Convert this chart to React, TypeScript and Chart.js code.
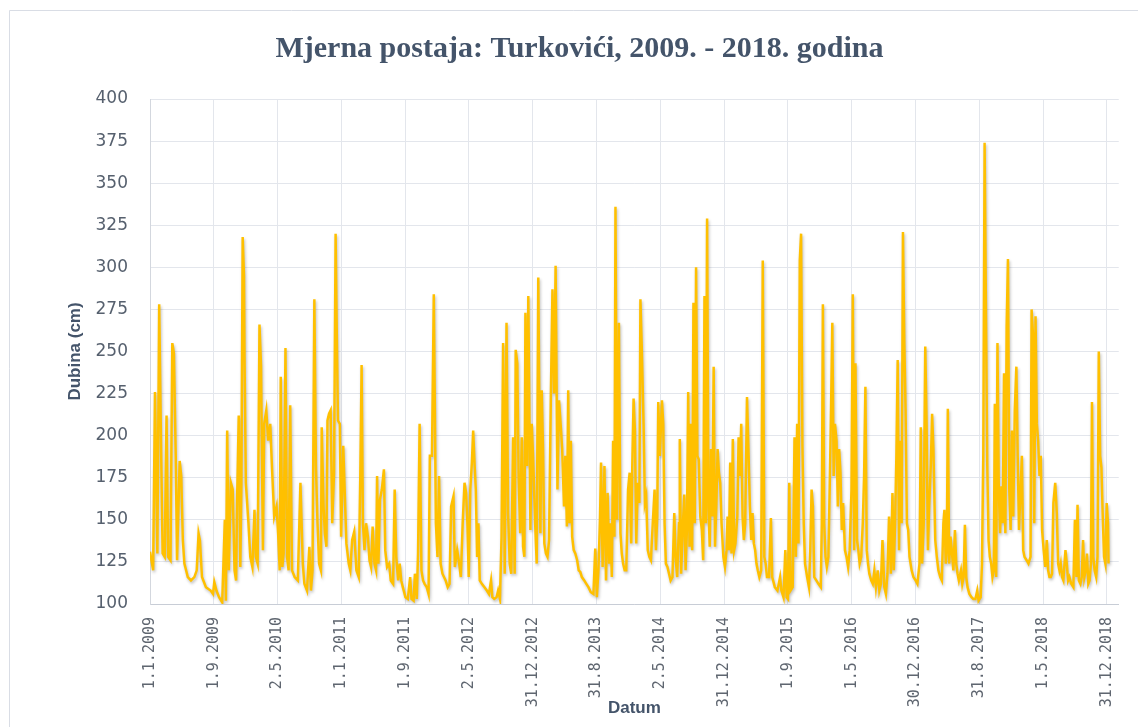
import React, { useEffect, useRef } from "react";
import { Chart, registerables } from "chart.js";

Chart.register(...registerables);

const chartTitle = "Mjerna postaja: Turkovići, 2009. - 2018. godina";
const yAxisTitle = "Dubina (cm)";
const xAxisTitle = "Datum";

const tickLabels = [
  "1.1.2009", "1.9.2009", "2.5.2010", "1.1.2011", "1.9.2011", "2.5.2012",
  "31.12.2012", "31.8.2013", "2.5.2014", "31.12.2014", "1.9.2015", "1.5.2016",
  "30.12.2016", "31.8.2017", "1.5.2018", "31.12.2018",
];
const tickStepDays = 243;
const lastCategory = 3690;

// [day index since 1.1.2009, depth in cm]
const obs2009: [number, number][] = [
  [0, 131], [12, 120], [19, 226], [28, 130], [35, 278], [41, 207], [48, 130], [56, 128], [63, 212], [69, 128],
  [78, 126], [85, 255], [91, 249], [98, 188], [103, 126], [113, 185], [119, 176], [125, 138], [131, 124], [144, 116],
  [156, 114], [169, 116], [178, 120], [185, 142], [190, 138], [198, 116], [213, 110], [231, 108], [240, 106], [245, 113],
  [253, 108], [263, 104], [275, 101], [285, 150], [289, 102], [294, 203], [300, 120], [308, 172], [315, 168], [322, 120],
  [328, 114], [332, 164], [338, 212], [344, 122], [348, 170], [353, 318], [358, 295], [360, 247], [365, 172], [375, 148],
  [382, 128], [390, 122], [398, 156], [403, 128], [410, 124], [417, 266], [423, 241], [430, 132], [435, 207], [443, 215],
  [450, 197], [458, 207], [465, 180], [473, 152], [482, 158], [488, 142], [494, 120], [498, 235], [504, 122], [509, 130],
  [516, 252], [522, 128], [528, 120], [534, 218], [541, 120], [551, 116], [563, 114], [573, 172],
];
const obs2010: [number, number][] = [
  [582, 124], [588, 112], [598, 108], [607, 134], [613, 108], [619, 120], [626, 281], [632, 182], [638, 148], [644, 124],
  [651, 120], [654, 205], [661, 158], [666, 142], [672, 134], [676, 209], [682, 213], [688, 215], [694, 148], [701, 178],
  [707, 320], [711, 266], [716, 209], [723, 207], [728, 140], [736, 194], [741, 170], [748, 136], [757, 124], [763, 120],
  [770, 138], [778, 143], [786, 120], [795, 116], [801, 176], [806, 242], [811, 148], [817, 132], [823, 148], [830, 140],
  [836, 126], [842, 122], [848, 146], [855, 124], [861, 120], [865, 176], [870, 124], [876, 162], [883, 168], [891, 180],
  [896, 132], [903, 122], [911, 124], [917, 114], [926, 112], [932, 168], [938, 128], [945, 114], [951, 124], [957, 114],
  [963, 110], [973, 104], [982, 103], [991, 116], [996, 103], [1004, 102], [1009, 118], [1016, 103], [1021, 130], [1027, 207],
  [1034, 120], [1040, 114], [1046, 112], [1054, 110], [1061, 106], [1066, 188], [1074, 188], [1081, 284], [1089, 148], [1095, 128],
  [1101, 176], [1107, 124], [1114, 118], [1126, 114], [1134, 110], [1141, 112], [1147, 158], [1156, 164], [1161, 122], [1170, 132],
  [1176, 126], [1184, 116], [1191, 148],
];
const obs2012: [number, number][] = [
  [1198, 172], [1204, 166], [1209, 148], [1214, 116], [1220, 168], [1226, 184], [1231, 203], [1236, 184], [1241, 168], [1246, 128],
  [1251, 148], [1256, 114], [1264, 112], [1274, 110], [1283, 108], [1291, 106], [1299, 114], [1304, 104], [1311, 103], [1320, 104],
  [1326, 108], [1333, 103], [1339, 140], [1345, 255], [1351, 118], [1358, 267], [1364, 154], [1370, 124], [1376, 118], [1383, 199],
  [1389, 118], [1393, 251], [1399, 243], [1404, 176], [1410, 142], [1416, 199], [1421, 134], [1426, 128], [1430, 273], [1436, 182],
  [1441, 283], [1449, 144], [1454, 207], [1459, 188], [1467, 148], [1473, 124], [1479, 294], [1487, 142], [1492, 227], [1497, 192],
  [1502, 136], [1508, 130], [1514, 128], [1520, 138], [1527, 225], [1533, 287], [1539, 225], [1545, 301], [1552, 168], [1558, 221],
  [1564, 207], [1570, 192], [1577, 158], [1582, 188], [1588, 146], [1593, 227], [1598, 148], [1603, 197], [1608, 140], [1614, 132],
  [1620, 130], [1627, 126], [1633, 120], [1639, 119], [1645, 116], [1654, 114], [1662, 112], [1670, 110], [1679, 107], [1689, 106],
  [1696, 133], [1702, 104], [1708, 120], [1714, 150], [1718, 184], [1724, 122], [1731, 182], [1737, 114], [1743, 166], [1749, 124],
  [1754, 148], [1759, 116], [1764, 197], [1769, 140], [1773, 336], [1779, 150], [1786, 267],
];
const obs2014: [number, number][] = [
  [1792, 142], [1797, 130], [1802, 124], [1808, 120], [1814, 120], [1821, 168], [1827, 178], [1833, 136], [1837, 182], [1842, 222],
  [1847, 203], [1852, 136], [1858, 172], [1864, 160], [1868, 281], [1873, 253], [1880, 207], [1885, 160], [1890, 164], [1896, 132],
  [1902, 128], [1908, 126], [1915, 148], [1922, 168], [1927, 132], [1932, 152], [1936, 220], [1942, 188], [1950, 221], [1955, 207],
  [1960, 148], [1965, 124], [1971, 122], [1977, 118], [1983, 114], [1990, 116], [1997, 154], [2002, 128], [2008, 116], [2015, 148],
  [2018, 198], [2023, 118], [2030, 148], [2035, 165], [2040, 120], [2045, 144], [2050, 226], [2055, 134], [2060, 207], [2065, 132],
  [2070, 279], [2075, 148], [2080, 300], [2085, 188], [2090, 186], [2096, 152], [2102, 144], [2107, 126], [2112, 283], [2117, 148],
  [2122, 329], [2127, 158], [2132, 134], [2137, 192], [2142, 152], [2147, 241], [2152, 134], [2157, 158], [2162, 192], [2167, 178],
  [2172, 172], [2177, 148], [2184, 128], [2190, 122], [2196, 132], [2200, 152], [2205, 132], [2210, 184], [2215, 130], [2220, 198],
  [2225, 132], [2230, 136], [2237, 152], [2242, 199], [2247, 176], [2252, 207], [2257, 152], [2262, 138], [2267, 148], [2274, 223],
  [2280, 188], [2285, 158], [2290, 138], [2295, 154], [2300, 136], [2305, 132], [2310, 124], [2315, 120], [2321, 116], [2328, 120],
  [2334, 304], [2340, 128], [2345, 124], [2350, 116], [2358, 116], [2365, 151], [2370, 116],
];
const obs2015: [number, number][] = [
  [2380, 110], [2390, 108], [2400, 116], [2405, 108], [2413, 104], [2420, 132], [2425, 104], [2430, 103], [2435, 172], [2440, 108],
  [2448, 110], [2455, 199], [2460, 128], [2465, 207], [2470, 136], [2475, 304], [2480, 320], [2485, 195], [2490, 148], [2495, 124],
  [2503, 116], [2510, 110], [2515, 132], [2520, 168], [2525, 158], [2530, 116], [2538, 114], [2546, 112], [2555, 110], [2559, 148],
  [2563, 278], [2568, 148], [2573, 128], [2578, 122], [2584, 128], [2590, 178], [2594, 215], [2599, 267], [2604, 176], [2609, 207],
  [2615, 197], [2620, 158], [2625, 192], [2630, 178], [2635, 144], [2640, 160], [2647, 132], [2653, 128], [2659, 122], [2665, 132],
  [2672, 168], [2677, 284], [2682, 132], [2687, 243], [2693, 138], [2698, 132], [2703, 124], [2709, 128], [2715, 148], [2720, 176],
  [2725, 229], [2730, 132], [2735, 124], [2740, 118], [2747, 114], [2753, 112], [2759, 120], [2765, 110], [2772, 120], [2778, 108],
  [2784, 112], [2790, 138], [2797, 110], [2803, 106], [2809, 118], [2815, 152], [2822, 118], [2828, 166], [2833, 120], [2838, 148],
  [2843, 188], [2848, 245], [2853, 132], [2858, 197], [2863, 148], [2868, 321], [2873, 257], [2878, 215], [2883, 148], [2888, 144],
  [2893, 128], [2901, 120], [2908, 116], [2916, 114], [2923, 112], [2931, 124], [2936, 205], [2941, 124], [2947, 148], [2953, 253],
  [2958, 207], [2963, 132], [2968, 158], [2974, 182], [2979, 213], [2984, 192], [2991, 138], [2997, 128], [3003, 120],
];
const obs2017: [number, number][] = [
  [3010, 116], [3016, 114], [3022, 148], [3026, 156], [3031, 124], [3035, 132], [3039, 216], [3044, 124], [3049, 140], [3054, 132],
  [3060, 120], [3066, 144], [3071, 124], [3076, 118], [3081, 114], [3089, 120], [3094, 112], [3099, 116], [3104, 147], [3109, 116],
  [3114, 110], [3121, 106], [3129, 104], [3136, 103], [3144, 103], [3151, 108], [3156, 102], [3164, 104], [3169, 124], [3174, 188],
  [3179, 374], [3184, 277], [3189, 184], [3194, 138], [3199, 128], [3204, 124], [3209, 116], [3214, 120], [3218, 219], [3223, 116],
  [3228, 255], [3233, 168], [3238, 142], [3243, 170], [3248, 148], [3253, 237], [3258, 142], [3263, 265], [3268, 305], [3273, 168],
  [3278, 144], [3283, 203], [3288, 152], [3294, 215], [3300, 241], [3305, 188], [3310, 144], [3316, 168], [3321, 188], [3326, 132],
  [3331, 128], [3339, 126], [3346, 124], [3354, 128], [3358, 275], [3363, 261], [3368, 148], [3373, 271], [3378, 207], [3383, 197],
  [3388, 176], [3393, 188], [3398, 144], [3404, 132], [3410, 122], [3416, 138], [3421, 120], [3426, 116], [3431, 116], [3436, 118],
  [3441, 160], [3448, 172], [3454, 154], [3459, 124], [3464, 120], [3469, 124], [3474, 116], [3479, 114], [3487, 132], [3492, 124],
  [3497, 114], [3502, 116], [3509, 112], [3517, 110], [3523, 150], [3529, 116], [3533, 159], [3538, 114], [3544, 112], [3549, 116],
  [3554, 138], [3559, 116], [3564, 120], [3569, 130], [3574, 112], [3579, 114], [3584, 124], [3588, 220], [3593, 128], [3598, 120],
  [3604, 116], [3609, 128], [3614, 250], [3619, 188], [3624, 181], [3629, 152], [3634, 128], [3639, 124], [3644, 160], [3649, 148],
  [3651, 124],
];

const observations = [...obs2009, ...obs2010, ...obs2012, ...obs2014, ...obs2015, ...obs2017];

export default function App() {
  const canvasRef = useRef<HTMLCanvasElement | null>(null);

  useEffect(() => {
    const canvas = canvasRef.current;
    if (!canvas) return;

    const framePlugin = {
      id: "frame",
      beforeDraw(chart: any) {
        const ctx = chart.ctx;
        ctx.save();
        ctx.fillStyle = "#ffffff";
        ctx.fillRect(0, 0, chart.width, chart.height);
        ctx.strokeStyle = "#d9dde5";
        ctx.lineWidth = 1;
        ctx.beginPath();
        ctx.moveTo(9.5, chart.height);
        ctx.lineTo(9.5, 10.5);
        ctx.lineTo(chart.width, 10.5);
        ctx.stroke();
        ctx.restore();
      },
    };

    const shadowPlugin = {
      id: "lineShadow",
      beforeDatasetDraw(chart: any) {
        const ctx = chart.ctx;
        ctx.save();
        ctx.shadowColor = "rgba(0,0,0,0.25)";
        ctx.shadowBlur = 3;
        ctx.shadowOffsetX = 1;
        ctx.shadowOffsetY = 2;
      },
      afterDatasetDraw(chart: any) {
        chart.ctx.restore();
      },
    };

    const chart = new Chart(canvas, {
      type: "line",
      data: {
        datasets: [
          {
            data: observations.map(([d, v]) => ({ x: d, y: v })),
            borderColor: "#FFC000",
            borderWidth: 2.5,
            pointRadius: 0,
            tension: 0,
            fill: false,
          },
        ],
      },
      options: {
        animation: false,
        responsive: true,
        maintainAspectRatio: false,
        layout: { padding: { left: 26, right: 5, top: 0, bottom: 0 } },
        plugins: {
          legend: { display: false },
          tooltip: { enabled: false },
          title: {
            display: true,
            text: chartTitle,
            color: "#44546A",
            font: { family: '"Liberation Serif", serif', size: 30, weight: "bold", lineHeight: 1.2 },
            padding: { top: 31, bottom: 32 },
          },
        },
        scales: {
          x: {
            type: "linear",
            min: 0,
            max: lastCategory,
            afterBuildTicks: (scale: any) => {
              scale.ticks = tickLabels.map((_, i) => ({ value: i * tickStepDays }));
            },
            afterFit: (scale: any) => {
              scale.height = 123;
            },
            grid: { color: "#e3e6ec", drawTicks: false },
            border: { color: "#c8cdd6" },
            ticks: {
              autoSkip: false,
              maxRotation: 90,
              minRotation: 90,
              padding: 13,
              color: "#5f6670",
              font: { family: '"DejaVu Sans Mono", monospace', size: 15 },
              callback: (_v: any, i: number) => tickLabels[i],
            },
            title: {
              display: true,
              text: xAxisTitle,
              color: "#44546A",
              font: { family: '"Liberation Sans", sans-serif', size: 17, weight: "bold", lineHeight: 1.2 },
              padding: { top: 0, bottom: 8 },
            },
          },
          y: {
            min: 100,
            max: 400,
            afterFit: (scale: any) => {
              scale.width = 124;
            },
            grid: { color: "#e3e6ec", drawTicks: false },
            border: { color: "#d3d7de" },
            ticks: {
              stepSize: 25,
              padding: 22,
              color: "#56606e",
              font: { family: '"DejaVu Sans", sans-serif', size: 17 },
            },
            title: {
              display: true,
              text: yAxisTitle,
              color: "#44546A",
              font: { family: '"Liberation Sans", sans-serif', size: 17, weight: "bold", lineHeight: 1.2 },
              padding: { top: 39, bottom: 0 },
            },
          },
        },
      } as any,
      plugins: [framePlugin, shadowPlugin],
    });

    return () => chart.destroy();
  }, []);

  return (
    <div style={{ position: "fixed", left: 0, top: 0, width: 1138, height: 727 }}>
      <canvas ref={canvasRef} />
    </div>
  );
}
